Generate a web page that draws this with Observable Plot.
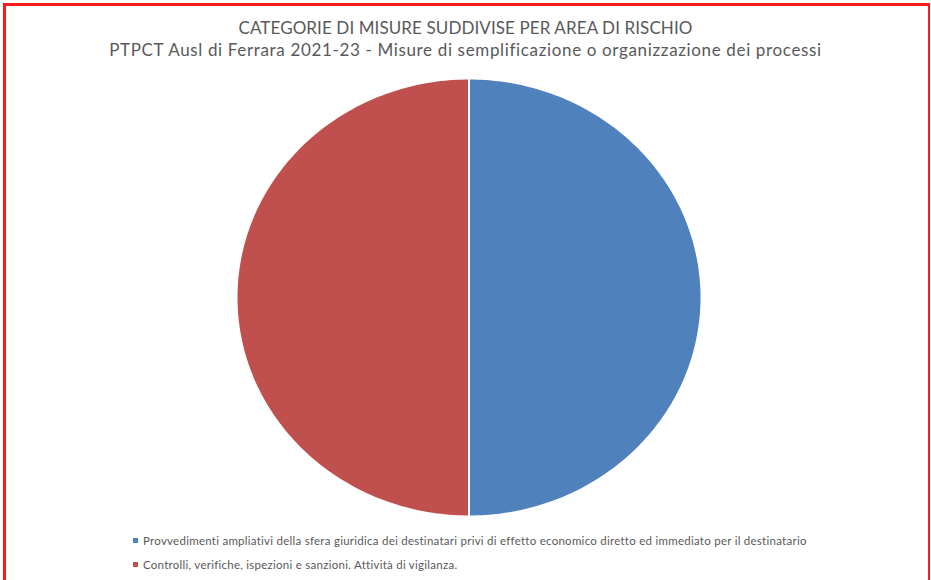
<!DOCTYPE html>
<html>
<head>
<meta charset="utf-8">
<script src="https://cdn.jsdelivr.net/npm/d3@7"></script>
<script src="https://cdn.jsdelivr.net/npm/@observablehq/plot@0.6"></script>
<style>
  html, body { margin: 0; padding: 0; background: #fff; }
  #wrap { position: relative; width: 931px; height: 580px; overflow: hidden; background: #fff; font-family: Lato, "Open Sans", sans-serif; }
  #frame { position: absolute; left: 3px; top: 3px; width: 922px; height: 620px; border: 3px solid #ff1a1a; border-right-width: 2px; }
  .title { position: absolute; left: 0; width: 931px; text-align: center; color: #595959; font-size: 17px; white-space: nowrap; }
  #chart { position: absolute; left: 0; top: 70px; }
  #legend { position: absolute; left: 133px; top: 528px; color: #595959; font-size: 11.5px; letter-spacing: 0.26px; }
  .li { height: 24px; display: flex; align-items: center; white-space: nowrap; }
  .sw { width: 5px; height: 5px; margin-right: 5px; }
</style>
</head>
<body>
<div id="wrap">
  <div id="frame"></div>
  <div class="title" id="t1" style="top:17px; letter-spacing:0.1px"></div>
  <div class="title" id="t2" style="top:39px; letter-spacing:0.65px"></div>
  <div id="chart"></div>
  <div id="legend"></div>
</div>
<script>
const titleLines = [
  "CATEGORIE DI MISURE SUDDIVISE PER AREA DI RISCHIO",
  "PTPCT Ausl di Ferrara 2021-23 - Misure di semplificazione o organizzazione dei processi"
];
const categories = [
  "Provvedimenti ampliativi della sfera giuridica dei destinatari privi di effetto economico diretto ed immediato per il destinatario",
  "Controlli, verifiche, ispezioni e sanzioni. Attività di vigilanza."
];
const values = [1, 1];
const colors = ["#4F81BD", "#C0504D"];

document.getElementById("t1").textContent = titleLines[0];
document.getElementById("t2").textContent = titleLines[1];

// compute slices via d3.pie (0 at top, clockwise)
const arcs = d3.pie().sort(null).startAngle(0).endAngle(2 * Math.PI)(values);
const pts = [];
arcs.forEach((a, i) => {
  const cat = categories[i];
  pts.push({cat, x: 0, y: 0});
  const n = Math.max(2, Math.ceil((a.endAngle - a.startAngle) / (Math.PI / 180)));
  for (let k = 0; k <= n; k++) {
    const t = a.startAngle + (a.endAngle - a.startAngle) * k / n;
    pts.push({cat, x: Math.sin(t), y: Math.cos(t)});
  }
});

const plot = Plot.plot({
  width: 931,
  height: 460,
  margin: 0,
  x: {domain: [-1, 1], range: [236, 701], axis: null},
  y: {domain: [-1, 1], range: [446, 8], axis: null},
  color: {domain: categories, range: colors},
  marks: [
    Plot.line(pts, {x: "x", y: "y", z: "cat", fill: "cat", stroke: "white", strokeWidth: 2, curve: "linear-closed", strokeLinejoin: "round"})
  ]
});
document.getElementById("chart").appendChild(plot);

const legend = document.getElementById("legend");
categories.forEach((c, i) => {
  const row = document.createElement("div");
  row.className = "li";
  const sw = document.createElement("span");
  sw.className = "sw";
  sw.style.background = colors[i];
  const tx = document.createElement("span");
  tx.textContent = c;
  row.appendChild(sw); row.appendChild(tx);
  legend.appendChild(row);
});
</script>
</body>
</html>
